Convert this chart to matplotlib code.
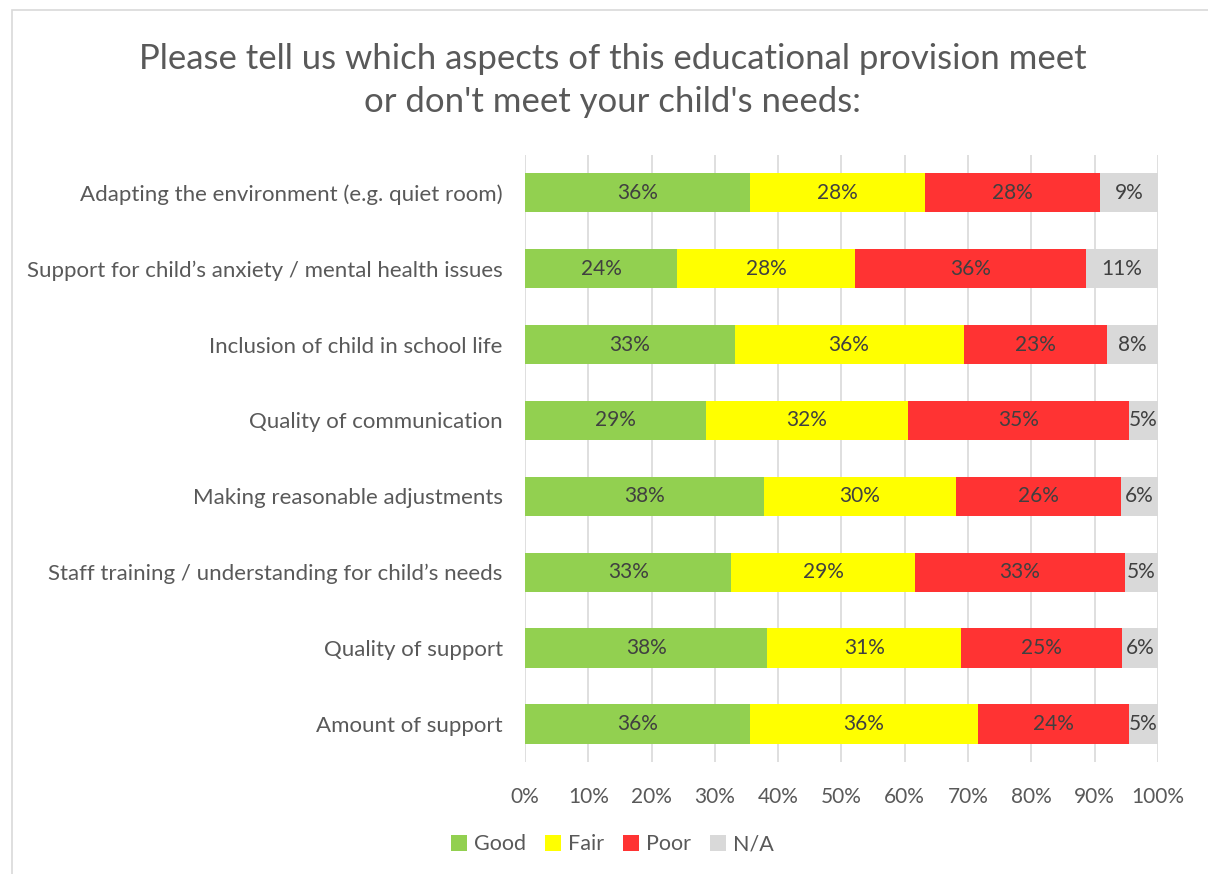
import numpy as np
import matplotlib.pyplot as plt
from matplotlib.patches import Rectangle

plt.rcParams['font.family'] = ['Lato', 'DejaVu Sans']

categories = [
    'Adapting the environment (e.g. quiet room)',
    'Support for child\u2019s anxiety / mental health issues',
    'Inclusion of child in school life',
    'Quality of communication',
    'Making reasonable adjustments',
    'Staff training / understanding for child\u2019s needs',
    'Quality of support',
    'Amount of support',
]
good = [35.6, 24.0, 33.1, 28.6, 37.7, 32.6, 38.3, 35.5]
fair = [27.6, 28.2, 36.2, 31.9, 30.4, 29.0, 30.6, 36.1]
poor = [27.6, 36.4, 22.6, 34.9, 26.1, 33.2, 25.4, 23.8]
na = [9.2, 11.4, 8.1, 4.6, 5.8, 5.2, 5.7, 4.6]

series = [('Good', good, '#92d050'), ('Fair', fair, '#ffff00'),
          ('Poor', poor, '#ff3333'), ('N/A', na, '#d9d9d9')]

fig = plt.figure(figsize=(12.08, 8.74), dpi=100)
ax = fig.add_axes([0.4346, 0.128, 0.524, 0.695])

# outer chart border
fig.patches.append(Rectangle((12 / 1208, -0.01), 1.1, 1 - 10 / 874 + 0.01,
                             transform=fig.transFigure, fill=False,
                             edgecolor='#d9d9d9', linewidth=1.2))

y = np.arange(len(categories))
left = np.zeros(len(categories))
for name, vals, color in series:
    vals = np.array(vals)
    ax.barh(y, vals, left=left, height=0.52, color=color, label=name, zorder=3)
    for yi, l, v in zip(y, left, vals):
        ax.text(l + v / 2, yi, f'{v:.0f}%', ha='center', va='center',
                fontsize=15, color='#404040', zorder=4)
    left += vals

ax.set_xlim(0, 100)
ax.set_ylim(len(categories) - 0.5, -0.5)
ax.set_xticks(np.arange(0, 101, 10))
ax.set_xticklabels([f'{t}%' for t in range(0, 101, 10)])
ax.set_yticks(y)
ax.set_yticklabels(categories)
ax.tick_params(axis='both', length=0, labelcolor='#595959')
ax.tick_params(axis='x', pad=18, labelsize=15)
ax.tick_params(axis='y', pad=16, labelsize=16)
ax.grid(axis='x', color='#d9d9d9', linewidth=1.2, zorder=0)
for s in ax.spines.values():
    s.set_visible(False)

fig.text(0.507, 0.908, 'Please tell us which aspects of this educational provision meet\n'
         'or don\'t meet your child\'s needs:', ha='center', va='center',
         fontsize=25, color='#595959', linespacing=1.4)

fig.legend(loc='center', bbox_to_anchor=(0.507, 0.034), ncol=4, frameon=False,
           fontsize=15.5, handlelength=0.75, handleheight=0.75, handletextpad=0.3,
           columnspacing=0.9, labelcolor='#595959')

fig.savefig('out.png', dpi=100)
